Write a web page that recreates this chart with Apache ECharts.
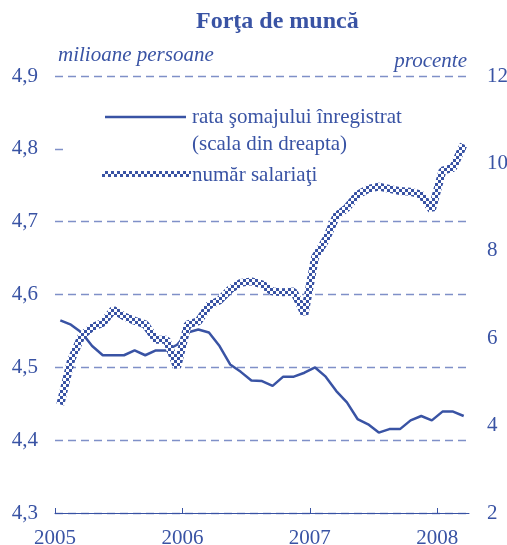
<!DOCTYPE html>
<html>
<head>
<meta charset="utf-8">
<script src="https://cdn.jsdelivr.net/npm/echarts@6/dist/echarts.min.js"></script>
<style>
    html, body { margin: 0; padding: 0; background: #fff; }
    #chart { width: 507px; height: 545px; }
</style>
</head>
<body>
<div id="chart"></div>
<script>
// monthly values, Jan 2005 .. Mar 2008
var years = ["2005", "2006", "2007", "2008"];
var yearTicks = [0, 12, 24, 36];
var leftTicks = ["4,3", "4,4", "4,5", "4,6", "4,7", "4,8", "4,9"];
var rightTicks = ["2", "4", "6", "8", "10", "12"];

// rata somajului inregistrat, % (right scale)
var somaj = [6.41, 6.31, 6.13, 5.82, 5.61, 5.61, 5.61, 5.72, 5.61, 5.72,
    5.72, 5.85, 6.13, 6.20, 6.13, 5.82, 5.40, 5.23, 5.03, 5.02,
    4.91, 5.12, 5.12, 5.21, 5.33, 5.12, 4.79, 4.53, 4.15, 4.03,
    3.84, 3.92, 3.92, 4.12, 4.22, 4.12, 4.32, 4.32, 4.22];

// numar salariati, milioane persoane (left scale)
var salariati = [4.449, 4.509, 4.543, 4.555, 4.561, 4.579, 4.570, 4.564, 4.559, 4.538,
    4.538, 4.500, 4.559, 4.563, 4.585, 4.592, 4.607, 4.616, 4.618, 4.614,
    4.604, 4.603, 4.604, 4.573, 4.651, 4.675, 4.708, 4.719, 4.737, 4.745,
    4.748, 4.745, 4.742, 4.741, 4.737, 4.716, 4.770, 4.774, 4.806];

var blue = "#3953a4";
var gridBlue = "#7f90c8";
var serif = "'Liberation Serif', 'DejaVu Serif', serif";

function toPairs(arr) {
    return arr.map(function (v, i) { return [i + 0.5, v]; });
}

// checkered brush for the employees line
var pat = document.createElement("canvas");
pat.width = 6;
pat.height = 6;
var ctx = pat.getContext("2d");
ctx.fillStyle = "#fff";
ctx.fillRect(0, 0, 6, 6);
ctx.fillStyle = blue;
ctx.fillRect(0, 0, 3, 3);
ctx.fillRect(3, 3, 3, 3);
var checker = { image: pat, repeat: "repeat" };

var chart = echarts.init(document.getElementById("chart"));
chart.setOption({
    animation: false,
    title: {
        text: "Forţa de muncă",
        left: 191,
        top: 5,
        textStyle: { fontFamily: serif, fontSize: 24, fontWeight: "bold", color: blue },
    },
    grid: { left: 55, right: 38, top: 76, bottom: 32, outerBoundsMode: "none", containLabel: false },
    xAxis: {
        type: "value",
        min: 0,
        max: 39,
        interval: 12,
        axisLine: { show: true, onZero: false, lineStyle: { color: blue, width: 1 } },
        axisTick: { show: true, inside: true, length: 5, customValues: yearTicks, lineStyle: { color: blue } },
        axisLabel: {
            customValues: yearTicks,
            formatter: function (v) { return years[Math.round(v / 12)]; },
            fontFamily: serif, fontSize: 21, color: blue, margin: 15,
        },
        splitLine: { show: false },
    },
    yAxis: [
        {
            type: "value",
            min: 4.3,
            max: 4.9,
            interval: 0.1,
            axisLine: { show: false },
            axisTick: { show: false },
            axisLabel: {
                formatter: function (v) { return leftTicks[Math.round((v - 4.3) * 10)]; },
                fontFamily: serif, fontSize: 21, color: blue, margin: 17,
            },
            splitLine: {
                show: true,
                lineStyle: { color: gridBlue, type: [8, 5], width: 1.3 },
            },
        },
        {
            type: "value",
            min: 2,
            max: 12,
            interval: 2,
            position: "right",
            axisLine: { show: false },
            axisTick: { show: false },
            axisLabel: {
                formatter: function (v) { return rightTicks[Math.round((v - 2) / 2)]; },
                fontFamily: serif, fontSize: 21, color: blue, margin: 18,
            },
            splitLine: { show: false },
        },
    ],
    graphic: [
        // blank area behind the legend, hides the 4,8 grid line
        { type: "rect", z: 1, shape: { x: 66, y: 100, width: 388, height: 84 }, style: { fill: "#fff" } },
        { type: "text", z: 5, left: 58, top: 45, style: { text: "milioane persoane", font: "italic 21px " + serif, fill: blue } },
        { type: "text", z: 5, right: 40, top: 51, style: { text: "procente", font: "italic 21px " + serif, fill: blue } },
        { type: "line", z: 5, shape: { x1: 105, y1: 117, x2: 186, y2: 117 }, style: { stroke: blue, lineWidth: 2.5 } },
        { type: "text", z: 5, left: 192, top: 107, style: { text: "rata şomajului înregistrat", font: "21px " + serif, fill: blue } },
        { type: "text", z: 5, left: 192, top: 134, style: { text: "(scala din dreapta)", font: "21px " + serif, fill: blue } },
        { type: "rect", z: 5, shape: { x: 102, y: 171, width: 89, height: 6 }, style: { fill: checker } },
        { type: "text", z: 5, left: 192, top: 165, style: { text: "număr salariaţi", font: "21px " + serif, fill: blue } },
    ],
    series: [
        {
            name: "rata şomajului înregistrat",
            type: "line",
            yAxisIndex: 1,
            data: toPairs(somaj),
            showSymbol: false,
            lineStyle: { color: blue, width: 2.5 },
            z: 3,
        },
        {
            name: "număr salariaţi",
            type: "line",
            yAxisIndex: 0,
            data: toPairs(salariati),
            showSymbol: false,
            lineStyle: { color: checker, width: 8 },
            z: 4,
        },
    ],
});
</script>
</body>
</html>
